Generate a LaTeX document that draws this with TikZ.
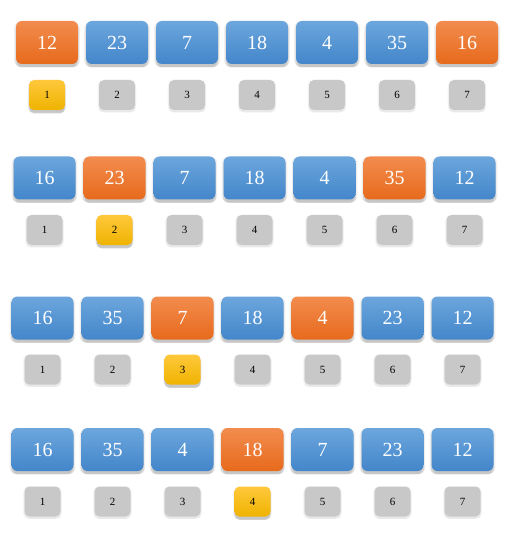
\documentclass[tikz,border=0pt]{standalone}
\usepackage{fontspec}
\setmainfont{Liberation Serif}
\usetikzlibrary{shadows}
\definecolor{bluetop}{HTML}{6CA6DD}
\definecolor{bluebot}{HTML}{4386CA}
\definecolor{orgtop}{HTML}{F28C4E}
\definecolor{orgbot}{HTML}{E76A1C}
\definecolor{yeltop}{HTML}{FFC83C}
\definecolor{yelbot}{HTML}{EFB300}
\definecolor{grayfill}{HTML}{C8C8C8}
\tikzset{
  softshadow/.style={
    drop shadow={shadow xshift=0pt,shadow yshift=-1.5pt,opacity=.12,shadow scale=1.06},
    drop shadow={shadow xshift=0pt,shadow yshift=-3pt,opacity=.22,shadow scale=1.02},
    drop shadow={shadow xshift=0pt,shadow yshift=-4pt,opacity=.2,shadow scale=0.97}},
  lightshadow/.style={
    drop shadow={shadow xshift=0pt,shadow yshift=-1pt,opacity=.08,shadow scale=1.08},
    drop shadow={shadow xshift=0pt,shadow yshift=-2pt,opacity=.1,shadow scale=1.02}},
  bigbox/.style={rectangle, rounded corners=6pt, minimum width=62pt, minimum height=43pt,
    inner sep=0pt, text=white, font=\fontsize{20}{20}\selectfont, softshadow},
  cold/.style={bigbox, top color=bluetop, bottom color=bluebot},
  hot/.style={bigbox, top color=orgtop, bottom color=orgbot},
  smallbox/.style={rectangle, rounded corners=5pt, minimum width=36pt, minimum height=30pt,
    inner sep=0pt, text=black, font=\fontsize{11}{11}\selectfont},
  idx/.style={smallbox, fill=grayfill, lightshadow},
  sel/.style={smallbox, top color=yeltop, bottom color=yelbot, softshadow},
}
\begin{document}
\begin{tikzpicture}[x=1pt,y=-1pt]
\useasboundingbox (0,0) rectangle (511,534);
% row 1
\foreach \v/\s [count=\i] in {12/hot,23/cold,7/cold,18/cold,4/cold,35/cold,16/hot}
  \node[\s] (ra\i) at ({47+70*(\i-1)},42.5) {\v};
\foreach \s [count=\i] in {sel,idx,idx,idx,idx,idx,idx}
  \node[\s] (ia\i) at ({47+70*(\i-1)},95) {\i};
% row 2
\foreach \v/\s [count=\i] in {16/cold,23/hot,7/cold,18/cold,4/cold,35/hot,12/cold}
  \node[\s] (rb\i) at ({44.5+70*(\i-1)},178) {\v};
\foreach \s [count=\i] in {idx,sel,idx,idx,idx,idx,idx}
  \node[\s] (ib\i) at ({44.5+70*(\i-1)},230) {\i};
% row 3
\foreach \v/\s [count=\i] in {16/cold,35/cold,7/hot,18/cold,4/hot,23/cold,12/cold}
  \node[\s] (rc\i) at ({42.5+70*(\i-1)},318) {\v};
\foreach \s [count=\i] in {idx,idx,sel,idx,idx,idx,idx}
  \node[\s] (ic\i) at ({42.5+70*(\i-1)},369.5) {\i};
% row 4
\foreach \v/\s [count=\i] in {16/cold,35/cold,4/cold,18/hot,7/cold,23/cold,12/cold}
  \node[\s] (rd\i) at ({42.5+70*(\i-1)},449.5) {\v};
\foreach \s [count=\i] in {idx,idx,idx,sel,idx,idx,idx}
  \node[\s] (id\i) at ({42.5+70*(\i-1)},501.5) {\i};
\end{tikzpicture}
\end{document}
